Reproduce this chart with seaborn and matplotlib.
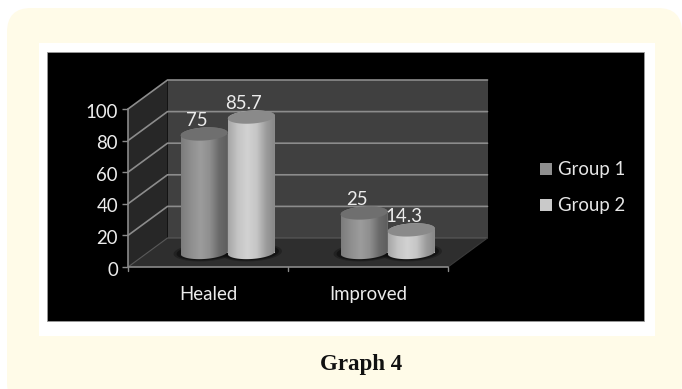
import numpy as np
import pandas as pd
import seaborn as sns
import matplotlib
matplotlib.use("Agg")
import matplotlib.pyplot as plt
from matplotlib.patches import FancyBboxPatch, Rectangle, Polygon, PathPatch
from matplotlib.path import Path
from matplotlib.lines import Line2D
from matplotlib.transforms import Affine2D, IdentityTransform
from matplotlib.colors import LinearSegmentedColormap

categories = ["Healed", "Improved"]
group_names = ["Group 1", "Group 2"]
group_1 = [75, 25]
group_2 = [85.7, 14.3]
value_labels = [["75", "25"], ["85.7", "14.3"]]
y_ticks = [0, 20, 40, 60, 80, 100]

W, H = 682, 389
DEPTH = np.array([39.5, 29.0])  # px shift from the front plane to the back wall
FONT_SIZE = 13.4

sns.set_theme(style="white")
plt.rcParams["font.family"] = ["Lato", "DejaVu Sans"]

fig = plt.figure(figsize=(W / 100, H / 100), dpi=100, facecolor="white")

# Page furniture, in image pixel coordinates
bg = fig.add_axes([0, 0, 1, 1], zorder=0)
bg.set_xlim(0, W)
bg.set_ylim(H, 0)
bg.axis("off")
bg.add_patch(FancyBboxPatch((7 + 22, 8 + 22), W - 7 - 44, H - 8 - 26,
                            boxstyle="round,pad=22,rounding_size=24",
                            fc="#FFFBE8", ec="none", clip_on=False))
bg.add_patch(Rectangle((39, 43), 616, 293, fc="white", ec="none"))
bg.add_patch(Rectangle((47, 51.5), 597, 269.5, fc="black", ec="#9a9a9a", lw=0.6))
bg.text(361, 364.5, "Graph 4", ha="center", va="center", fontsize=16.5,
        fontweight="bold", family="Liberation Serif", color="#111111")


def to_axes_rect(x0, ytop, x1, ybot):
    return [x0 / W, 1 - ybot / H, (x1 - x0) / W, (ybot - ytop) / H]


# Front plane of the 3D box: value axis runs along its left edge
ax = fig.add_axes(to_axes_rect(128, 109, 448, 267), zorder=1)
ax.patch.set_alpha(0)

df = pd.DataFrame({
    "category": categories * 2,
    "group": [group_names[0]] * 2 + [group_names[1]] * 2,
    "value": group_1 + group_2,
})
sns.barplot(data=df, x="category", y="value", hue="group", ax=ax, width=0.59,
            gap=0, palette=["#8f8f8f", "#c9c9c9"], saturation=1, zorder=3, linewidth=0)

ax.set_xlim(-0.5, 1.5)
ax.set_ylim(0, 100)
ax.set_xlabel("")
ax.set_ylabel("")
ax.set_yticks(y_ticks)
ax.set_xticks([0, 1], categories)
sns.despine(ax=ax, left=True, bottom=True, top=True, right=True)
ax.tick_params(axis="y", length=4.3, width=1, color="#8a8a8a", labelcolor="#ececec",
               labelsize=FONT_SIZE, pad=3, left=True)
ax.tick_params(axis="x", length=0, labelcolor="#ececec", labelsize=FONT_SIZE, pad=14)

# Value labels sit slightly below their tick marks
nudge = Affine2D().translate(0, -1.5)
for label in ax.get_yticklabels():
    label.set_transform(label.get_transform() + nudge)


def px(x, y, d=0.0):
    """Display position of a data point at fractional depth d into the box."""
    return ax.transData.transform((x, y)) + d * DEPTH


disp = IdentityTransform()
x_lo, x_hi = ax.get_xlim()
p00 = px(x_lo, 0)
p10 = px(x_hi, 0)
p01 = px(x_lo, 100)
b00 = px(x_lo, 0, 1)
b10 = px(x_hi, 0, 1)
b01 = px(x_lo, 100, 1)
b11 = px(x_hi, 100, 1)

# Box walls
ax.add_patch(Polygon([b00, b10, b11, b01], fc="#404040", ec="none", transform=disp, zorder=0, clip_on=False))
ax.add_patch(Polygon([p00, b00, b01, p01], fc="#272727", ec="none", transform=disp, zorder=0, clip_on=False))
ax.add_patch(Polygon([p00, p10, b10, b00], fc="#2e2e2e", ec="none", transform=disp, zorder=0, clip_on=False))

# Gridlines run across the side wall and the back wall
for v in y_ticks:
    a, b, c = px(x_lo, v), px(x_lo, v, 1), px(x_hi, v, 1)
    if v == 0:
        col, lw = "#5a5a5a", 0.8
    else:
        col, lw = "#8c8c8c", 1.2
    ax.add_line(Line2D([a[0], b[0], c[0]], [a[1], b[1], c[1]], color=col, lw=lw,
                       transform=disp, zorder=1, clip_on=False))
ax.add_line(Line2D([p01[0], p00[0], p10[0]], [p01[1], p00[1], p10[1]], color="#8a8a8a", lw=1.2,
                   transform=disp, zorder=2, clip_on=False))
ax.add_line(Line2D([p10[0], b10[0]], [p10[1], b10[1]], color="#3a3a3a", lw=0.8,
                   transform=disp, zorder=1, clip_on=False))
for x in (-0.5, 0.5, 1.5):
    q = px(x, 0)
    ax.add_line(Line2D([q[0], q[0]], [q[1], q[1] - 4], color="#8a8a8a", lw=1,
                       transform=disp, zorder=2, clip_on=False))

shade_1 = LinearSegmentedColormap.from_list("g1", ["#7c7c7c", "#8e8e8e", "#9c9c9c", "#8f8f8f", "#6a6a6a", "#5c5c5c"])
shade_2 = LinearSegmentedColormap.from_list("g2", ["#a6a6a6", "#c4c4c4", "#d2d2d2", "#c6c6c6", "#9c9c9c", "#858585"])
top_cols = ["#6f6f6f", "#8a8a8a"]
RY, SHEAR = 6.5, 0.06
ramp = np.linspace(0, 1, 128)[None, :]


def arc(cx, cy, rx, t):
    return np.c_[cx + rx * np.cos(t), cy + RY * np.sin(t) + SHEAR * rx * np.cos(t)]


lift = Affine2D().translate(*(0.5 * DEPTH))
for g, (container, cmap) in enumerate(zip(ax.containers, [shade_1, shade_2])):
    for i, bar in enumerate(container):
        # The flat seaborn bar sits mid-depth inside the box
        bar.set_transform(ax.transData + lift)
        bar.set_clip_on(False)
        x0, w, h = bar.get_x(), bar.get_width(), bar.get_height()
        left = px(x0, h, 0.5)
        right = px(x0 + w, h, 0.5)
        base = px(x0 + w / 2, 0, 0.5)
        top = px(x0 + w / 2, h, 0.5)
        rx = (right[0] - left[0]) / 2

        # Soft contact shadow on the floor
        t = np.linspace(0, 2 * np.pi, 80)
        for grow, alpha in ((7, 0.35), (4, 0.6)):
            ring = np.c_[base[0] + (rx + grow) * np.cos(t),
                         base[1] + (RY + grow / 3) * np.sin(t) + SHEAR * rx * np.cos(t)]
            ax.add_patch(Polygon(ring, fc="#0c0c0c", ec="none", alpha=alpha, transform=disp,
                                 zorder=2.1 + g * 0.01, clip_on=False))

        # Cylinder body: back half of the top rim, then the lower rim
        t_up = np.linspace(0, np.pi, 40)
        t_down = np.linspace(np.pi, 2 * np.pi, 40)
        outline = np.vstack([arc(top[0], top[1], rx, t_up), arc(base[0], base[1], rx, t_down)])
        clip = PathPatch(Path(np.vstack([outline, outline[0]])), transform=disp, fc="none", ec="none")
        ax.add_patch(clip)
        im = ax.imshow(ramp, cmap=cmap, vmin=0, vmax=1, aspect="auto", transform=disp,
                       extent=[top[0] - rx, top[0] + rx, base[1] - RY - 4, top[1] + RY + 4],
                       zorder=4 + g + i * 0.1, interpolation="bilinear")
        im.set_clip_path(clip)
        im.set_clip_box(fig.bbox)
        ax.add_patch(Polygon(arc(top[0], top[1], rx, np.linspace(0, 2 * np.pi, 80)),
                             fc=top_cols[g], ec="none", transform=disp,
                             zorder=4.05 + g + i * 0.1, clip_on=False))
        ax.annotate(value_labels[g][i], xy=top, xycoords=disp, xytext=(-7.5 * 0.72, 13.5 * 0.72),
                    textcoords="offset points", ha="center", va="center",
                    color="#ececec", fontsize=FONT_SIZE, zorder=8, annotation_clip=False)

ax.set_xlim(x_lo, x_hi)
ax.set_ylim(0, 100)

handles, labels = ax.get_legend_handles_labels()
ax.legend(handles, labels, loc="upper left", bbox_to_anchor=(533, H - 154), bbox_transform=disp,
          frameon=False, fontsize=FONT_SIZE, labelcolor="#e6e6e6", handlelength=0.64, handleheight=0.64,
          handletextpad=0.28, labelspacing=1.02, borderpad=0.4, borderaxespad=0)

fig.savefig("out.png", dpi=100)
